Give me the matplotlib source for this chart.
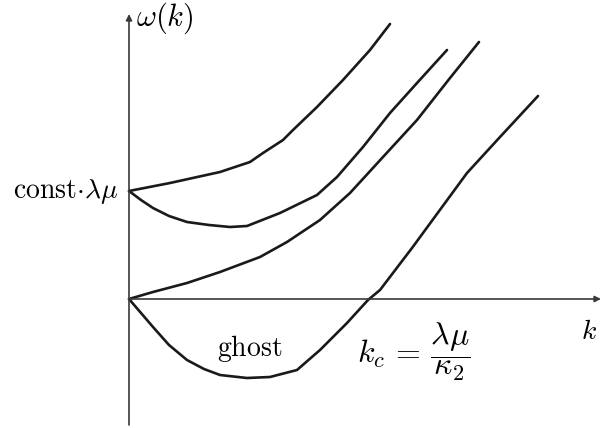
import matplotlib.pyplot as plt

plt.rcParams['mathtext.fontset'] = 'cm'

# curve points (origin at the axes crossing)
k_upper = [0, 41, 91, 121, 134, 154, 164, 188, 214, 241, 261]
w_upper = [108, 116, 127, 137, 146, 159, 169, 192, 219, 249, 275]

k_dip = [0, 12, 24, 40, 58, 80, 101, 118, 151, 188, 208, 234, 261, 288, 318]
w_dip = [108, 99, 91, 83, 77, 74, 72, 73, 86, 104, 122, 152, 186, 216, 249]

k_mid = [0, 24, 58, 91, 131, 158, 191, 221, 254, 288, 321, 350]
w_mid = [0, 7, 16, 27, 42, 57, 79, 106, 142, 179, 221, 257]

k_ghost = [0, 24, 40, 58, 75, 91, 118, 141, 168, 191, 218, 239, 251, 283, 338, 371, 409]
w_ghost = [0, -28, -46, -61, -70, -76, -79, -78, -71, -51, -24, -1, 9, 51, 126, 162, 203]

fig = plt.figure(figsize=(6.02, 4.28), dpi=100)
ax = fig.add_axes([0, 0, 1, 1])
ax.set_xlim(-129, 473)
ax.set_ylim(-129, 299)
ax.axis('off')

axis_col = '#3a3a3a'
arrow = dict(arrowstyle='-|>', lw=1.2, color=axis_col, mutation_scale=9,
             shrinkA=0, shrinkB=0)
ax.annotate('', xy=(0, 285), xytext=(0, -126), arrowprops=arrow)
ax.annotate('', xy=(472, 0), xytext=(0, 0), arrowprops=arrow)

for k, w in [(k_upper, w_upper), (k_dip, w_dip), (k_mid, w_mid), (k_ghost, w_ghost)]:
    ax.plot(k, w, color='#1a1a1a', lw=1.9, solid_joinstyle='round',
            solid_capstyle='round')

fs = 20
ax.text(7, 281, r'$\omega(k)$', fontsize=22, ha='left', va='center')
ax.text(-11, 108, r'$\mathrm{const}{\cdot}\lambda\mu$', fontsize=fs, ha='right', va='center')
ax.text(121, -50, r'$\mathrm{ghost}$', fontsize=fs, ha='center', va='center')
ax.text(228, -53, r'$k_c\,=\,\dfrac{\lambda\mu}{\kappa_2}$', fontsize=23, ha='left', va='center')
ax.text(460, -32, r'$k$', fontsize=fs, ha='center', va='center')

fig.savefig('out.png', dpi=100)
